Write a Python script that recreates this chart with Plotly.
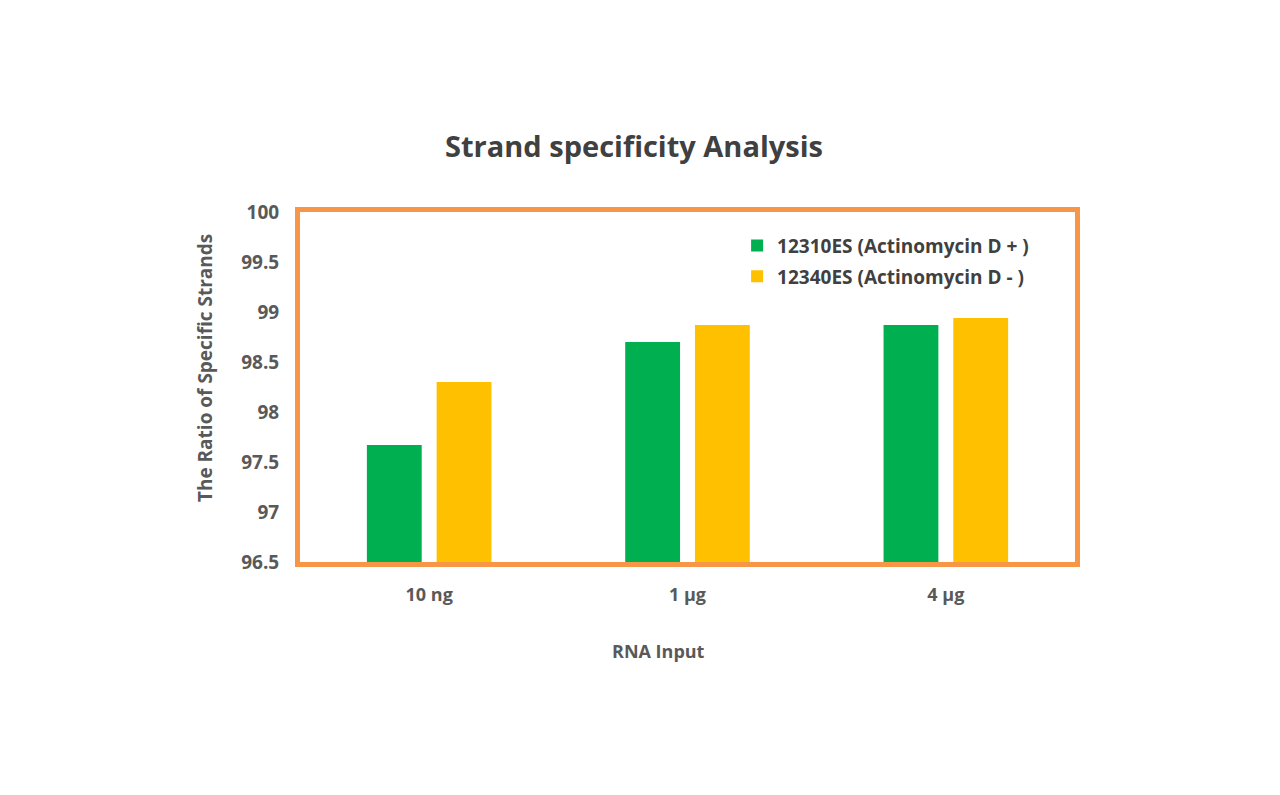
import plotly.graph_objects as go

categories = ["10 ng", "1 µg", "4 µg"]
series_names = ["12310ES (Actinomycin D + )", "12340ES (Actinomycin D - )"]
values_plus = [97.67, 98.70, 98.87]
values_minus = [98.30, 98.87, 98.94]
colors = ["#00B050", "#FFC000"]
y_ticks = [96.5, 97, 97.5, 98, 98.5, 99, 99.5, 100]
x_title = "RNA Input"
y_title = "The Ratio of Specific Strands"

FONT = "Open Sans"
TXT = "#404040"
AX = "#595959"
W, H = 1264, 779

fig = go.Figure()
for name, vals, col, grp in zip(series_names, [values_plus, values_minus], colors, ["a", "b"]):
    fig.add_trace(go.Bar(
        x=categories, y=vals, name=name, marker=dict(color=col, line=dict(width=0)),
        legendgroup=grp,
    ))

fig.update_layout(
    width=W, height=H,
    paper_bgcolor="white", plot_bgcolor="white",
    margin=dict(l=292, r=197, t=204, b=225),
    barmode="group", bargap=0.46, bargroupgap=0.214,
    title=dict(text="<b>Strand specificity Analysis</b>", x=626 / W, xanchor="center",
               y=1 - 139 / H, yanchor="middle",
               font=dict(family=FONT, size=29, color=TXT)),
    legend=dict(x=0.564, xanchor="left", y=0.958, yanchor="top",
                font=dict(family=FONT, size=19, color=TXT, weight="bold"),
                bgcolor="rgba(0,0,0,0)", traceorder="grouped", tracegroupgap=3),
    font=dict(family=FONT, color=TXT),
    annotations=[
        dict(text=f"<b>{x_title}</b>", xref="paper", yref="paper",
             x=0.462, y=-0.254, xanchor="center", yanchor="middle", showarrow=False,
             font=dict(family=FONT, size=18, color=AX)),
        dict(text=f"<b>{y_title}</b>", xref="paper", yref="paper", textangle=-90,
             x=-0.1226, y=0.554, xanchor="center", yanchor="middle", showarrow=False,
             font=dict(family=FONT, size=19, color=AX)),
    ],
)

fig.update_yaxes(
    range=[96.5, 100], tickvals=y_ticks, ticktext=[f"{v:g}" for v in y_ticks],
    showgrid=False, zeroline=False,
    showline=True, linecolor="#F79646", linewidth=5, mirror=True,
    ticks="", ticklabelstandoff=12,
    tickfont=dict(family=FONT, size=19, color=AX, weight="bold"),
)
fig.update_xaxes(
    showgrid=False, zeroline=False,
    showline=True, linecolor="#F79646", linewidth=5, mirror=True,
    ticks="", ticklabelstandoff=12,
    tickfont=dict(family=FONT, size=18, color=AX, weight="bold"),
)

fig.write_html("out.html")
